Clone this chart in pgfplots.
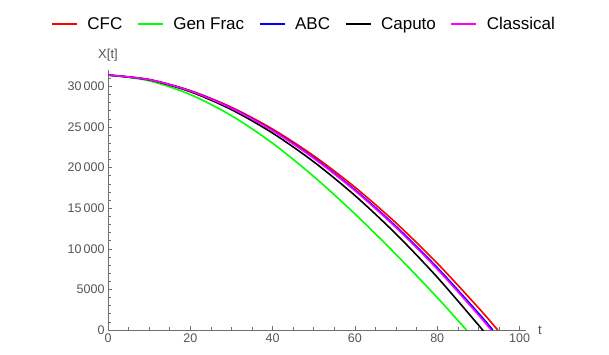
\documentclass[border=0pt]{standalone}
\usepackage{fontspec}
\setmainfont{Liberation Sans}
\usepackage{pgfplots}
\pgfplotsset{compat=1.18}

\definecolor{axgray}{RGB}{110,110,110}
\definecolor{lblgray}{RGB}{85,85,85}
\definecolor{mag}{RGB}{255,0,255}

\begin{document}
\begin{tikzpicture}
\begin{axis}[
    scale only axis,
    width=417.7bp, height=259.8bp,
    xmin=0, xmax=101.5,
    ymin=0, ymax=32000,
    axis lines=left,
    axis line style={-, draw=axgray, line width=0.7bp},
    tick style={draw=axgray, line width=0.6bp},
    tick align=inside,
    major tick length=4.5bp,
    minor tick length=2.7bp,
    xtick={0,20,40,60,80,100},
    minor xtick={5,10,15,25,30,35,45,50,55,65,70,75,85,90,95},
    ytick={0,5000,10000,15000,20000,25000,30000},
    minor ytick={1000,2000,3000,4000,6000,7000,8000,9000,11000,12000,13000,14000,16000,17000,18000,19000,21000,22000,23000,24000,26000,27000,28000,29000,31000},
    scaled y ticks=false,
    /pgf/number format/assume math mode=true,
    /pgf/number format/1000 sep={\,},
    /pgf/number format/min exponent for 1000 sep=4,
    tick label style={font=\fontsize{12.5bp}{14bp}\selectfont, text=lblgray},
    xlabel={t},
    xlabel style={at={(axis description cs:1.029,0)}, anchor=west,
        font=\fontsize{13bp}{15bp}\selectfont, text=lblgray, inner sep=0pt},
    ylabel={X[t]},
    ylabel style={at={(axis description cs:0.0,1.058)}, anchor=center, rotate=-90,
        font=\fontsize{13bp}{15bp}\selectfont, text=lblgray, inner sep=0pt},
    legend columns=-1,
    legend style={draw=none, fill=none, at={(axis description cs:0.469,1.176)}, anchor=center,
        font=\fontsize{17bp}{20bp}\selectfont,
        /tikz/every odd column/.append style={column sep=7.5bp},
        /tikz/every even column/.append style={column sep=12.5bp}},
    legend image code/.code={\draw[#1, line width=2bp] (0bp,0bp) -- (25bp,0bp);},
    every axis plot/.append style={line width=1.6bp, smooth},
]
% CFC
\addplot[red] coordinates {
(0,31400) (10,30851) (20,29489) (30,27434) (40,24743) (50,21456)
(60,17590) (70,13176) (80,8224) (90,2748) (94.7,0)
};
% Gen Frac
\addplot[green] coordinates {
(0,31400) (10,30700) (20,29000) (30,26400) (40,23000) (50,18900)
(60,14300) (70,9300) (80,4000) (87.1,0)
};
% ABC
\addplot[blue] coordinates {
(0,31400) (10,30838) (20,29444) (30,27343) (40,24589) (50,21223)
(60,17274) (70,12752) (80,7687) (90,2088) (93.5,0)
};
% Caputo
\addplot[black] coordinates {
(0,31400) (10,30810) (20,29347) (30,27140) (40,24250) (50,20714)
(60,16567) (70,11819) (80,6503) (90,622) (91.0,0)
};
% Classical
\addplot[mag] coordinates {
(0,31400) (10,30834) (20,29429) (30,27312) (40,24536) (50,21145)
(60,17163) (70,12607) (80,7505) (90,1859) (93.1,0)
};
\legend{CFC, Gen Frac, ABC, Caputo, Classical}
\end{axis}
\pgfresetboundingbox
\path[use as bounding box] (-108bp,-25bp) rectangle (501bp,330bp);
\end{tikzpicture}
\end{document}
